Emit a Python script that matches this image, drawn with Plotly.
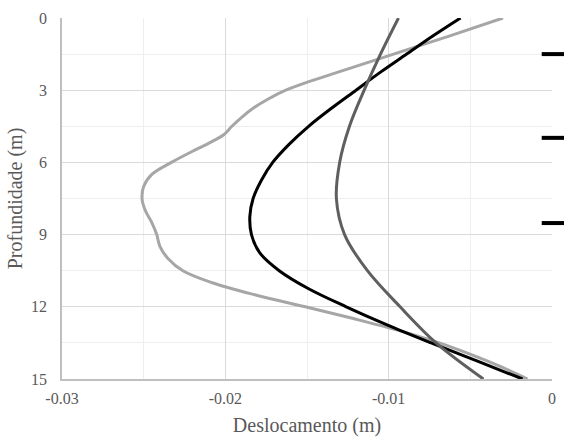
import plotly.graph_objects as go

# Depth profiles (m) and horizontal displacement (m) for the three cases
depth_light = [0, 0.75, 1.5, 2.25, 2.625, 3.0, 3.375, 3.75, 4.125, 4.5, 4.85, 5.2, 5.5, 6.0, 6.5,
               7.0, 7.5, 8.0, 8.5, 9.0, 9.5, 10.0, 10.5, 11.0, 11.5, 12.0, 12.5, 13.0, 13.5, 14.0,
               14.5, 15.0]
disp_light = [-0.0030, -0.0063, -0.0097, -0.0131, -0.0148, -0.0163, -0.0174, -0.0183, -0.0190,
              -0.0196, -0.0201, -0.0210, -0.0219, -0.0233, -0.0245, -0.0250, -0.0251, -0.0249,
              -0.0245, -0.0242, -0.0240, -0.0235, -0.0226, -0.0208, -0.0182, -0.0151, -0.0121,
              -0.0093, -0.0069, -0.0049, -0.0031, -0.0015]

depth_black = [0, 0.75, 1.5, 2.25, 3.0, 3.75, 4.5, 5.25, 6.0, 6.75, 7.5, 8.25, 9.0, 9.75, 10.5,
               11.25, 12.0, 12.75, 13.5, 14.25, 15.0]
disp_black = [-0.0056, -0.0073, -0.0089, -0.0105, -0.0120, -0.0135, -0.0149, -0.0161, -0.0171,
              -0.0178, -0.0183, -0.0185, -0.0184, -0.0179, -0.0167, -0.0149, -0.0126, -0.0101,
              -0.0074, -0.0046, -0.0018]

depth_dark = [0, 1.5, 3.0, 4.5, 6.0, 7.5, 9.0, 10.5, 12.0, 13.5, 15.0]
disp_dark = [-0.0094, -0.0105, -0.0115, -0.0124, -0.0130, -0.0132, -0.0127, -0.0113, -0.0093,
             -0.0071, -0.0042]

x_tick_vals = [-0.03, -0.02, -0.01, 0]
x_tick_text = ["-0.03", "-0.02", "-0.01", "0"]
y_tick_vals = [0, 3, 6, 9, 12, 15]

font_family = "Liberation Serif, Times New Roman, serif"

fig = go.Figure()
for xs, ys, color in [(disp_light, depth_light, "#a6a6a6"),
                      (disp_black, depth_black, "#000000"),
                      (disp_dark, depth_dark, "#5f5f5f")]:
    fig.add_trace(go.Scatter(x=xs, y=ys, mode="lines",
                             line=dict(color=color, width=3, shape="spline", smoothing=1.0),
                             showlegend=False, hoverinfo="skip"))

# legend keys at the right edge
for yp in [0.900, 0.668, 0.432]:
    fig.add_shape(type="line", xref="paper", yref="paper", x0=0.979, x1=1.03, y0=yp, y1=yp,
                  line=dict(color="#000000", width=4))

fig.update_layout(
    width=564, height=441,
    margin=dict(l=62, r=8, t=18, b=62),
    paper_bgcolor="white", plot_bgcolor="white",
    font=dict(family=font_family, size=16, color="#595959"),
    xaxis=dict(range=[-0.03, 0], tickvals=x_tick_vals, ticktext=x_tick_text,
               showgrid=True, gridcolor="#d9d9d9", gridwidth=1,
               minor=dict(dtick=0.005, tick0=0, showgrid=True, gridcolor="#eeeeee", gridwidth=1),
               showline=True, linecolor="#bfbfbf", linewidth=1.5, zeroline=False,
               ticks="", tickfont=dict(size=16, color="#595959"), ticklabelstandoff=4,
               title=dict(text="Deslocamento (m)", font=dict(size=20, color="#595959"), standoff=12)),
    yaxis=dict(range=[15, 0], tickvals=y_tick_vals,
               showgrid=True, gridcolor="#d9d9d9", gridwidth=1,
               minor=dict(dtick=1.5, tick0=0, showgrid=True, gridcolor="#eeeeee", gridwidth=1),
               showline=True, linecolor="#bfbfbf", linewidth=1.5, zeroline=False,
               ticks="", tickfont=dict(size=16, color="#595959"), ticklabelstandoff=10,
               title=dict(text="Profundidade (m)", font=dict(size=20, color="#595959"), standoff=3)),
)

fig.write_html("out.html")
